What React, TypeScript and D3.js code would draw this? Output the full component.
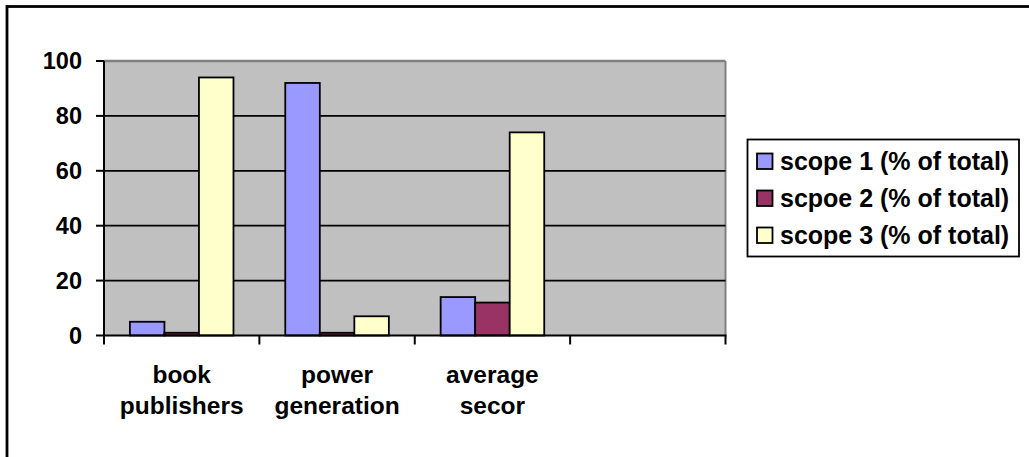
import React from "react";
import * as d3 from "d3";

// Category slots along the x axis (the last slot is left empty)
const categories = ["book publishers", "power generation", "average secor", ""];
const categoryLines = [["book", "publishers"], ["power", "generation"], ["average", "secor"], []];

// Series values, percent of total
const seriesNames = ["scope 1 (% of total)", "scpoe 2 (% of total)", "scope 3 (% of total)"];
const scope1 = [5, 92, 14];
const scope2 = [1, 1, 12];
const scope3 = [94, 7, 74];
const seriesColors = ["#9999FF", "#993366", "#FFFFCC"];

const yTicks = [0, 20, 40, 60, 80, 100];

const W = 1029;
const H = 457;
const plot = { left: 104, right: 725.5, top: 61, bottom: 335.5 };
const FONT = "'Liberation Sans', Arial, sans-serif";

export default function App() {
  const series = [scope1, scope2, scope3];

  const x = d3
    .scaleBand<string>()
    .domain(categories)
    .range([plot.left, plot.right])
    .paddingInner(0)
    .paddingOuter(0);

  // Excel-style 50% gap width: the bar group fills 2/3 of each slot
  const groupWidth = x.bandwidth() / 1.5;
  const xInner = d3
    .scaleBand<number>()
    .domain(d3.range(series.length))
    .range([0, groupWidth]);

  const y = d3.scaleLinear().domain([0, 100]).range([plot.bottom, plot.top]);

  const slotEdges = categories.map((c) => x(c) as number).concat([plot.right]);

  return (
    <svg
      width={W}
      height={H}
      style={{ position: "absolute", left: 0, top: 0, background: "#ffffff" }}
      fontFamily={FONT}
    >
      {/* chart frame */}
      <rect x={7} y={6.5} width={1200} height={1000} fill="#ffffff" stroke="#000" strokeWidth={2.8} />

      {/* plot area */}
      <rect
        x={plot.left}
        y={plot.top}
        width={plot.right - plot.left}
        height={plot.bottom - plot.top}
        fill="#C0C0C0"
      />
      <line x1={plot.left} x2={plot.right} y1={plot.top} y2={plot.top} stroke="#808080" strokeWidth={2.5} />
      <line x1={plot.right} x2={plot.right} y1={plot.top} y2={plot.bottom} stroke="#808080" strokeWidth={2} />

      {/* gridlines */}
      {yTicks
        .filter((t) => t > 0 && t < 100)
        .map((t) => (
          <line key={t} x1={plot.left} x2={plot.right} y1={y(t)} y2={y(t)} stroke="#000" strokeWidth={1.8} />
        ))}

      {/* bars */}
      {categories.map((c, ci) =>
        series.map((vals, si) => {
          const v = vals[ci];
          if (v === undefined) return null;
          const bx = (x(c) as number) + (x.bandwidth() - groupWidth) / 2 + (xInner(si) as number);
          return (
            <rect
              key={`${ci}-${si}`}
              x={bx}
              y={y(v)}
              width={xInner.bandwidth()}
              height={y(0) - y(v)}
              fill={seriesColors[si]}
              stroke="#000"
              strokeWidth={1.8}
            />
          );
        })
      )}

      {/* y axis */}
      <line x1={plot.left} x2={plot.left} y1={plot.top} y2={plot.bottom + 1} stroke="#000" strokeWidth={2} />
      {yTicks.map((t) => (
        <g key={t}>
          <line x1={plot.left - 8} x2={plot.left} y1={y(t)} y2={y(t)} stroke="#000" strokeWidth={2} />
          <text
            x={82}
            y={y(t)}
            dy="0.35em"
            textAnchor="end"
            fontSize={23.5}
            fontWeight="bold"
            fill="#000"
          >
            {t}
          </text>
        </g>
      ))}

      {/* x axis */}
      <line x1={plot.left - 1} x2={plot.right + 1} y1={plot.bottom} y2={plot.bottom} stroke="#000" strokeWidth={2} />
      {slotEdges.map((ex, i) => (
        <line key={i} x1={ex} x2={ex} y1={plot.bottom} y2={plot.bottom + 9} stroke="#000" strokeWidth={2} />
      ))}
      {categories.map((c, ci) => (
        <text
          key={ci}
          x={(x(c) as number) + x.bandwidth() / 2}
          textAnchor="middle"
          fontSize={24.5}
          fontWeight="bold"
          fill="#000"
        >
          {categoryLines[ci].map((ln, li) => (
            <tspan key={li} x={(x(c) as number) + x.bandwidth() / 2} y={383 + li * 31}>
              {ln}
            </tspan>
          ))}
        </text>
      ))}

      {/* legend */}
      <rect x={747.5} y={139.5} width={271.5} height={117} fill="#ffffff" stroke="#000" strokeWidth={1.8} />
      {seriesNames.map((name, i) => {
        const baseline = 170 + i * 37;
        return (
          <g key={name}>
            <rect
              x={757}
              y={baseline - 16.5}
              width={15.5}
              height={15.5}
              fill={seriesColors[i]}
              stroke="#000"
              strokeWidth={1.8}
            />
            <text x={780} y={baseline} fontSize={25} fontWeight="bold" fill="#000">
              {name}
            </text>
          </g>
        );
      })}
    </svg>
  );
}
